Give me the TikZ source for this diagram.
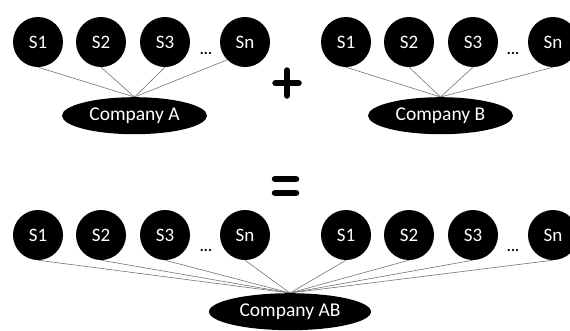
\documentclass[tikz,border=0pt]{standalone}
\usepackage{fontspec}
\setmainfont{Carlito}
\usetikzlibrary{shapes.geometric,backgrounds}
\begin{document}
\begin{tikzpicture}[x=1pt,y=-1pt,
  sub/.style={circle,fill=black,text=white,minimum size=50pt,inner sep=0pt,
    font=\fontsize{19}{19}\selectfont},
  firm/.style={ellipse,fill=black,text=white,minimum height=37pt,inner sep=0pt,
    font=\fontsize{19.5}{19.5}\selectfont},
  dots/.style={inner sep=0pt,anchor=base,font=\fontsize{15}{15}\selectfont\bfseries},
  tie/.style={draw=black!55,line width=0.6pt},
  sign/.style={line width=6.5pt,line cap=round}]
\useasboundingbox (0,0) rectangle (570,330);
\clip (0,0) rectangle (570,330);

% first company and its subsidiaries
\node[sub] (a1) at (38,42) {S1};
\node[sub] (a2) at (101,42) {S2};
\node[sub] (a3) at (165,42) {S3};
\node[sub] (an) at (245,42) {Sn};
\node[dots] (ad) at (206,54.5) {...};
\node[firm,minimum width=145pt,anchor=north] (ca) at (134.5,97) {Company A};

% second company and its subsidiaries
\node[sub] (b1) at (346,42) {S1};
\node[sub] (b2) at (409,42) {S2};
\node[sub] (b3) at (473,42) {S3};
\node[sub] (bn) at (553,42) {Sn};
\node[dots] (bd) at (513,54.5) {...};
\node[firm,minimum width=145pt,anchor=north] (cb) at (440.5,97) {Company B};

% plus and equals signs
\draw[sign] (275.5,83) -- (298.5,83);
\draw[sign] (287,70.5) -- (287,95.5);
\draw[sign] (275,179) -- (296,179);
\draw[sign] (275,193) -- (296,193);

% merged company with all subsidiaries
\node[sub] (m1) at (38,235) {S1};
\node[sub] (m2) at (101,235) {S2};
\node[sub] (m3) at (165,235) {S3};
\node[sub] (mn) at (245,235) {Sn};
\node[dots] (md) at (206,251.5) {...};
\node[sub] (n1) at (346,235) {S1};
\node[sub] (n2) at (409,235) {S2};
\node[sub] (n3) at (473,235) {S3};
\node[sub] (nn) at (553,235) {Sn};
\node[dots] (nd) at (513,251.5) {...};
\node[firm,minimum width=162pt,anchor=north] (cab) at (290,293) {Company AB};

% ownership lines, kept behind the circles
\begin{pgfonlayer}{background}
  \foreach \s in {a1,a2,a3} \draw[tie] (\s.south) -- (ca.north);
  \draw[tie] (an.south west) -- (ca.north);
  \foreach \s in {b1,b2,b3,bn} \draw[tie] (\s.south) -- (cb.north);
  \foreach \s in {m1,m2,m3,mn,n1,n2,n3,nn} \draw[tie] (\s.south) -- (cab.north);
\end{pgfonlayer}
\end{tikzpicture}
\end{document}
